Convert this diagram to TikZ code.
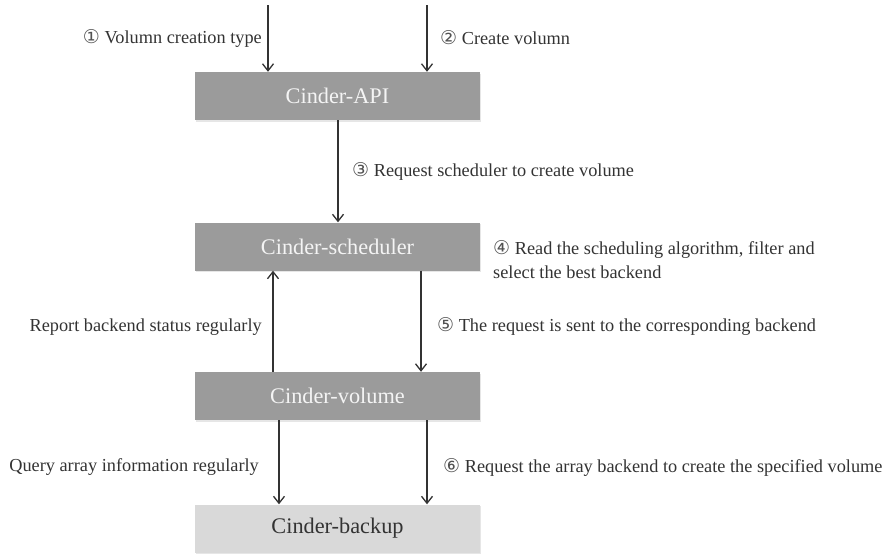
\documentclass[tikz,border=0pt]{standalone}
\usepackage{fontspec}
\setmainfont{Liberation Serif}
\newfontfamily\circfont{DejaVu Sans}
\usetikzlibrary{arrows.meta,shadows}
\definecolor{boxdark}{HTML}{9B9B9B}
\definecolor{boxlight}{HTML}{D9D9D9}
\definecolor{ink}{HTML}{333333}
\definecolor{boxtext}{HTML}{F4F4F4}
\newcommand{\cnum}[1]{{\circfont\fontsize{19}{20}\selectfont\color{ink!85}#1}}
\tikzset{
  stagebox/.style={minimum width=285pt, minimum height=48pt, inner sep=0pt,
    font=\fontsize{22.3}{26}\selectfont,
    drop shadow={opacity=0.2, shadow xshift=1pt, shadow yshift=-1.5pt}},
  darkbox/.style={stagebox, fill=boxdark, text=boxtext},
  lightbox/.style={stagebox, fill=boxlight, text=ink},
  lbl/.style={inner sep=0pt, text=ink, font=\fontsize{18.3}{24}\selectfont},
  arr/.style={draw=ink, line width=1.3pt, -{Straight Barb[length=7pt,width=11pt,line width=1.3pt]}}
}
\begin{document}
\begin{tikzpicture}[x=1pt,y=-1pt]
\useasboundingbox (0,0) rectangle (893,555);
% boxes
\node[darkbox] (api) at (337.5,96) {Cinder-API};
\node[darkbox] (sch) at (337.5,246.5) {Cinder-scheduler};
\node[darkbox] (vol) at (337.5,396) {Cinder-volume};
\node[lightbox] (bak) at (337.5,528.5) {Cinder-backup};
% free ends
\coordinate (in1) at (268,5);
\coordinate (in2) at (427,5);
% arrows
\draw[arr] (in1) -- (in1 |- api.north);
\draw[arr] (in2) -- (in2 |- api.north);
\draw[arr] ([xshift=0.5]api.south) -- ([xshift=0.5]sch.north);
\draw[arr] ([xshift=-64.5]vol.north) -- ([xshift=-64.5]sch.south);
\draw[arr] ([xshift=83.5]sch.south) -- ([xshift=83.5]vol.north);
\draw[arr] ([xshift=-58.5]vol.south) -- ([xshift=-58.5]bak.north);
\draw[arr] ([xshift=89.5]vol.south) -- ([xshift=89.5]bak.north);
% labels
\node[lbl, anchor=east] (l1) at (262,38) {\cnum{①} Volumn creation type};
\node[lbl, anchor=west] (l2) at (440,38) {\cnum{②} Create volumn};
\node[lbl, anchor=west] (l3) at (352,171) {\cnum{③} Request scheduler to create volume};
\node[lbl, anchor=west, align=left] (l4) at (493,260) {\cnum{④} Read the scheduling algorithm, filter and\\select the best backend};
\node[lbl, anchor=east] (l5) at (262,327) {Report backend status regularly};
\node[lbl, anchor=west] (l6) at (437,326) {\cnum{⑤} The request is sent to the corresponding backend};
\node[lbl, anchor=east] (l7) at (259,467) {Query array information regularly};
\node[lbl, anchor=west] (l8) at (443,467) {\cnum{⑥} Request the array backend to create the specified volume};
\end{tikzpicture}
\end{document}
